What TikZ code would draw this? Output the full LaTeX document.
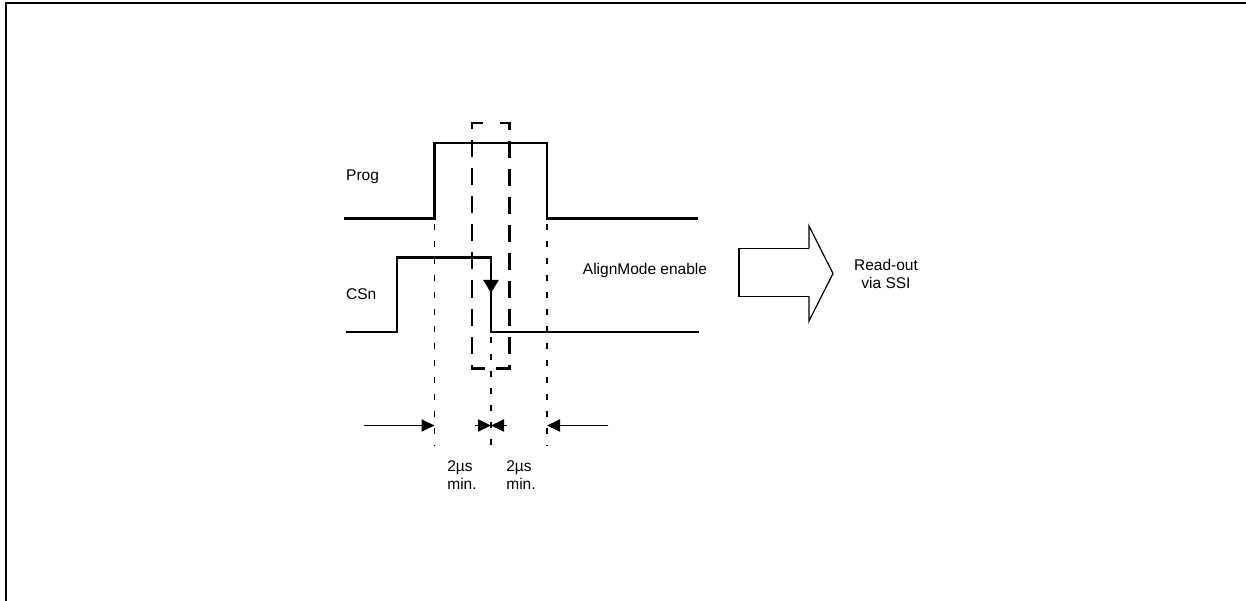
\documentclass[tikz,border=0pt]{standalone}
\usepackage{fontspec}
\setmainfont{Liberation Sans}
\usetikzlibrary{arrows.meta}
\begin{document}
\begin{tikzpicture}[x=1pt,y=-1pt,
  signal/.style={line width=2.3pt,line join=miter},
  guide/.style={line width=1.9pt,dash pattern=on 6pt off 11pt},
  longdash/.style={line width=2.1pt,dash pattern=on 17pt off 11pt,dash phase=19pt},
  measure/.style={line width=1.9pt,-{Triangle[length=13pt,width=12pt]}},
  lbl/.style={font=\fontsize{15.5}{18.5}\selectfont,inner sep=0pt},
  border/.style={line width=2.8pt}]
\useasboundingbox (0,0) rectangle (1246,601);
% frame (top and left edges)
\draw[border] (6,601) -- (6,3) -- (1246,3);
% Prog signal
\draw[signal] (344,218.5) -- (434.5,218.5) -- (434.5,143) -- (547,143) -- (547,218.5) -- (698,218.5);
% CSn signal
\draw[signal] (346,332) -- (397,332) -- (397,257.5) -- (491,257.5) -- (491,332) -- (699,332);
\draw[signal,-{Triangle[length=13pt,width=15pt]}] (491,257.5) -- (491,293);
% dashed window
\draw[longdash] (490.5,123) -- (509.5,123) -- (509.5,368.5) -- (472,368.5) -- (472,123) -- cycle;
% guide lines
\coordinate (gA) at (434.5,446);
\coordinate (gB) at (491,446);
\coordinate (gC) at (547,446);
\draw[guide] (434.5,224) -- (gA);
\draw[guide] (491,337) -- (gB);
\draw[guide] (547,224) -- (gC);
% measurement arrows
\coordinate (mA) at (434.5,425.5);
\coordinate (mB) at (491,425.5);
\coordinate (mC) at (547,425.5);
\coordinate (sA) at (364,425.5);
\coordinate (sB1) at (475,425.5);
\coordinate (sB2) at (507,425.5);
\coordinate (sC) at (608,425.5);
\draw[measure] (sA) -- (mA);
\draw[measure] (sB1) -- (mB);
\draw[measure] (sB2) -- (mB);
\draw[measure] (sC) -- (mC);
% labels
\node[lbl,anchor=west] (prog) at (346,177) {Prog};
\node[lbl,anchor=west] (csn) at (346,294.5) {CSn};
\node[lbl] (align) at (645,270) {AlignMode enable};
\node[lbl,align=center] (readout) at (886,274) {Read-out\\via SSI};
\node[lbl,align=left] (t1) at (462,475) {2µs\\min.};
\node[lbl,align=left] (t2) at (521,475) {2µs\\min.};
% block arrow
\draw[line width=1.8pt,line join=miter] (739,248.5) -- (809,248.5);
\draw[line width=1.2pt,line join=miter] (809,248.5) -- (809,226) -- (833,273.5) -- (809,321) -- (809,296.5);
\draw[line width=1.8pt] (809,296.5) -- (739,296.5) -- (739,248.5);
\end{tikzpicture}
\end{document}
